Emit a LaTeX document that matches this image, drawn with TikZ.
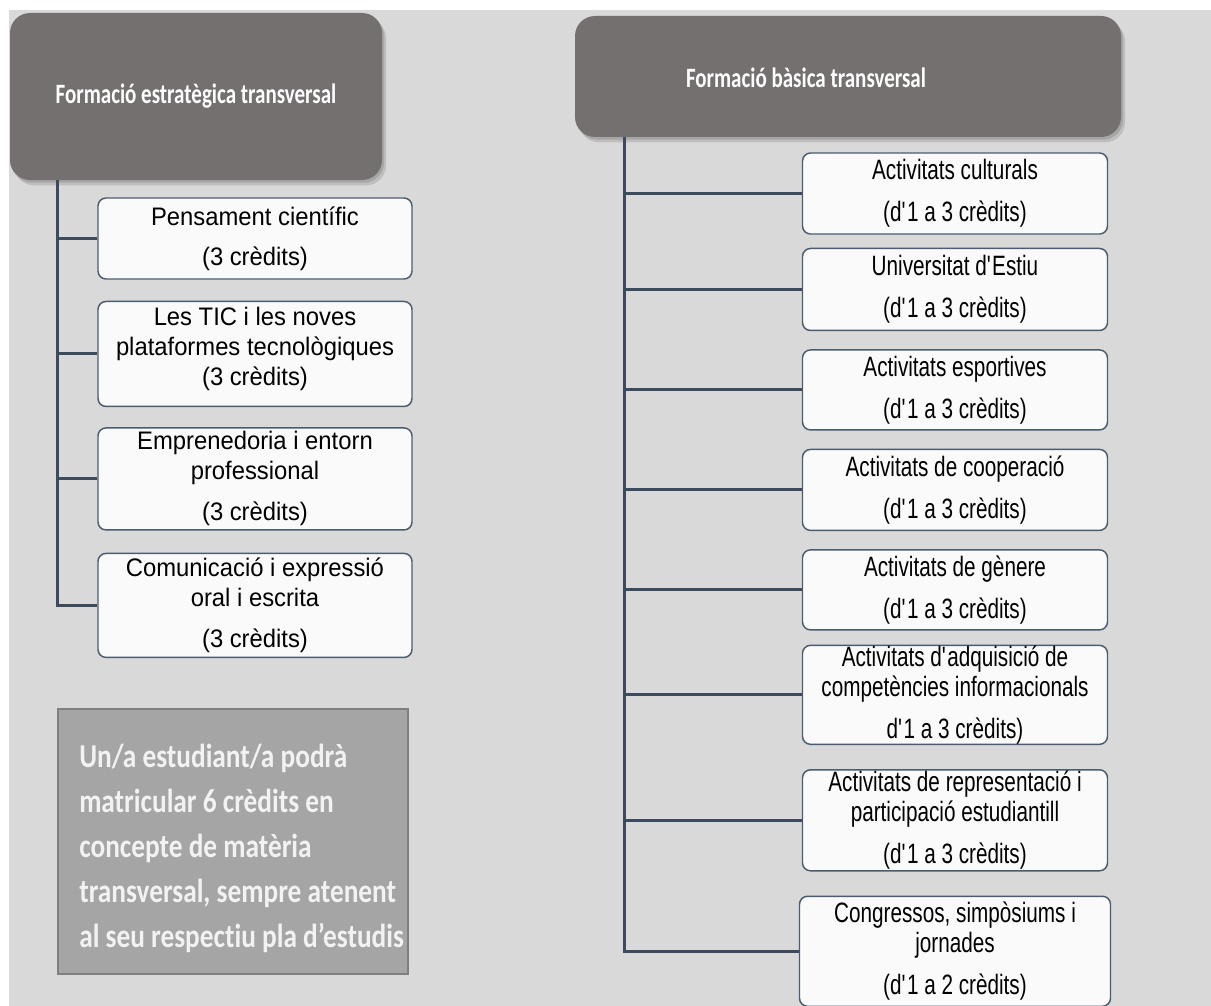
\documentclass[tikz,border=0pt]{standalone}
\usepackage{fontspec}
\newfontfamily\headfont[FakeStretch=0.75]{Carlito}
\newfontfamily\notefont[FakeStretch=0.82,Ligatures=CommonOff]{Carlito}
\newfontfamily\leftfont[FakeStretch=0.94]{Liberation Sans}
\newfontfamily\rightfont[FakeStretch=0.74]{Liberation Sans}
\usetikzlibrary{calc,positioning,shadows}
\newdimen\px \px=0.75pt
\newcommand\ap{\textquotesingle}
\definecolor{bgcol}{HTML}{D9D9D9}
\definecolor{headcol}{HTML}{757070}
\definecolor{linkcol}{HTML}{3B4A5C}
\definecolor{edgecol}{HTML}{4C5C70}
\definecolor{notecol}{HTML}{A5A5A5}
\definecolor{noteedge}{HTML}{7F7F7F}

\begin{document}
\begin{tikzpicture}[
    x=0.75pt, y=-0.75pt,
    headtext/.style={text=white, font=\headfont\bfseries\fontsize{21pt}{24pt}\selectfont},
    headbox/.style={headtext, rounded corners=15pt, fill=headcol, inner sep=0pt,
        general shadow={fill=black, opacity=.12, shadow xshift=1.5pt, shadow yshift=-2pt},
        general shadow={fill=black, opacity=.12, shadow xshift=3pt, shadow yshift=-4pt}},
    item/.style={draw=edgecol, line width=1.1pt, fill=white!98!black, rounded corners=6pt, inner sep=0pt},
    lbox/.style={item, minimum width=314\px},
    rbox/.style={item, minimum width=305\px},
    ltext/.style={align=center, inner sep=0pt, font=\leftfont\fontsize{19pt}{22.5pt}\selectfont},
    rtext/.style={align=center, inner sep=0pt, font=\rightfont\fontsize{21pt}{22.5pt}\selectfont},
    link/.style={draw=linkcol, line width=2.25pt},
    notebox/.style={fill=notecol, draw=noteedge, line width=1.5pt},
    notetext/.style={align=left, inner sep=0pt, text=white!95!black,
        font=\notefont\bfseries\fontsize{25pt}{33.75pt}\selectfont}
]
\useasboundingbox (0,0) rectangle (1211,1006);
\fill[bgcol] (9,10) rectangle (1211,1006);

% left column
\node[headbox, minimum width=372\px, minimum height=167\px] (hl) at (196,96.5) {Formació estratègica transversal};
\node[lbox, minimum height=81\px, label={[ltext]center:{Pensament científic\\[7.5pt](3 crèdits)}}] (p1) at (255,238.5) {};
\node[lbox, minimum height=105\px, below=21\px of p1, label={[ltext, yshift=4pt]center:{Les TIC i les noves\\plataformes tecnològiques\\(3 crèdits)}}] (p2) {};
\node[lbox, minimum height=102\px, below=20\px of p2, label={[ltext]center:{Emprenedoria i entorn\\professional\\[8.25pt](3 crèdits)}}] (p3) {};
\node[lbox, minimum height=104\px, below=22\px of p3, label={[ltext]center:{Comunicació i expressió\\oral i escrita\\[8.25pt](3 crèdits)}}] (p4) {};

\coordinate (lt) at ($(hl.south west)+(48,0)$);
\draw[link] (lt) |- (p4.west);
\foreach \n in {p1,p2,p3}
    \draw[link] (lt |- \n.west) -- (\n.west);

% note
\node[notebox, minimum width=350\px, minimum height=265\px] (nb) at (233,841.5) {};
\node[notetext, anchor=west] (nt) at ($(nb.west)+(22,7)$) {Un/a estudiant/a podrà\\matricular 6 crèdits en\\concepte de matèria\\transversal, sempre atenent\\al seu respectiu pla d’estudis};

% right column
\node[headbox, minimum width=546\px, minimum height=121\px,
    label={[headtext, xshift=-31.5pt, yshift=-1.1pt]center:Formació bàsica transversal}] (hr) at (848,76.5) {};
\node[rbox, minimum height=81\px, label={[rtext]center:{Activitats culturals\\[9pt](d\ap1 a 3 crèdits)}}] (a1) at (955,193.5) {};
\node[rbox, minimum height=82\px, below=13\px of a1, label={[rtext]center:{Universitat d\ap Estiu\\[9pt](d\ap1 a 3 crèdits)}}] (a2) {};
\node[rbox, minimum height=80\px, below=18\px of a2, label={[rtext]center:{Activitats esportives\\[9pt](d\ap1 a 3 crèdits)}}] (a3) {};
\node[rbox, minimum height=81\px, below=18\px of a3, label={[rtext]center:{Activitats de cooperació\\[9pt](d\ap1 a 3 crèdits)}}] (a4) {};
\node[rbox, minimum height=80\px, below=18\px of a4, label={[rtext]center:{Activitats de gènere\\[9pt](d\ap1 a 3 crèdits)}}] (a5) {};
\node[rbox, minimum height=99\px, below=14\px of a5, label={[rtext]center:{Activitats d\ap adquisició de\\competències informacionals\\[9pt]d\ap1 a 3 crèdits)}}] (a6) {};
\node[rbox, minimum height=101\px, below=24\px of a6, label={[rtext]center:{Activitats de representació i\\participació estudiantill\\[9pt](d\ap1 a 3 crèdits)}}] (a7) {};
\node[rbox, minimum height=110\px, minimum width=311\px, below=24\px of a7, label={[rtext]center:{Congressos, simpòsiums i\\jornades\\[9pt](d\ap1 a 2 crèdits)}}] (a8) {};

\coordinate (rt) at ($(hr.south west)+(50,0)$);
\draw[link] (rt) |- (a8.west);
\foreach \n in {a1,a2,a3,a4,a5,a6,a7}
    \draw[link] (rt |- \n.west) -- (\n.west);
\end{tikzpicture}
\end{document}
